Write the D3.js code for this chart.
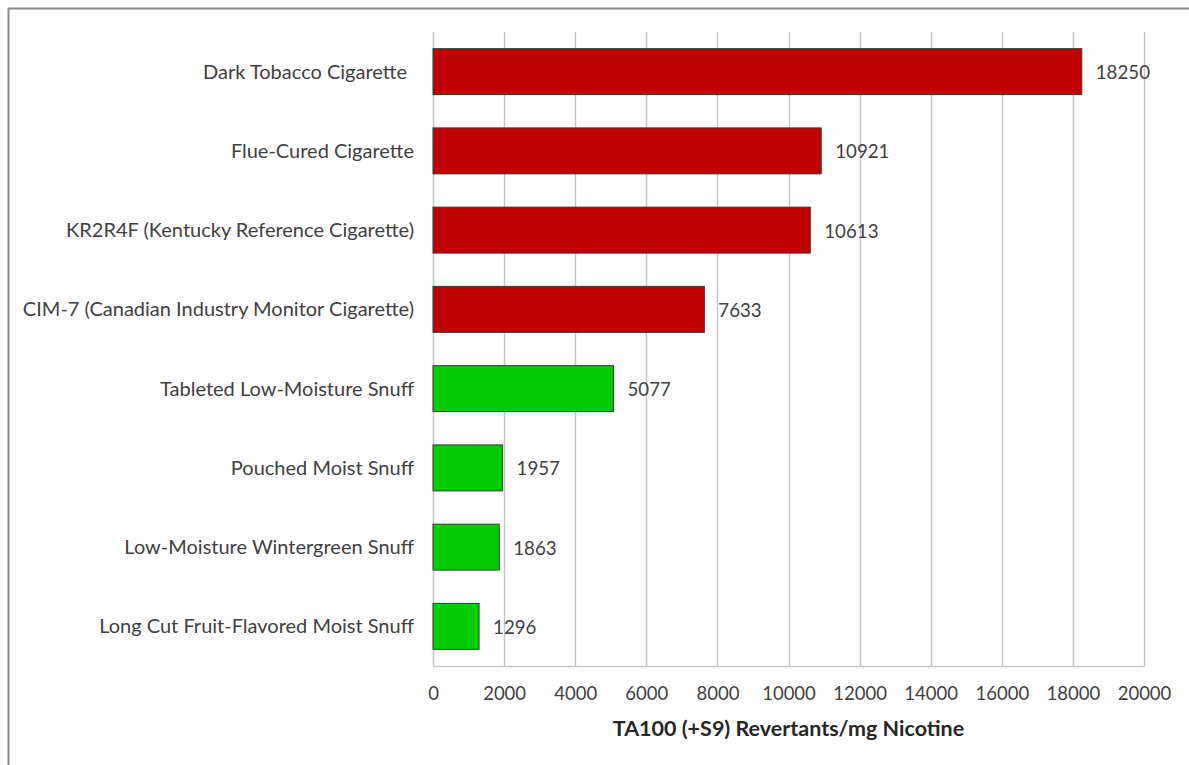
<!DOCTYPE html>
<html>
<head>
<meta charset="utf-8">
<script src="https://cdn.jsdelivr.net/npm/d3@7"></script>
<style>
  html, body { margin: 0; padding: 0; background: #fff; }
  svg { display: block; }
  text { font-family: Lato, "Open Sans", sans-serif; }
</style>
</head>
<body>
<svg id="chart" width="1189" height="765"></svg>
<script>
const categories = [
  "Dark Tobacco Cigarette",
  "Flue-Cured Cigarette",
  "KR2R4F (Kentucky Reference Cigarette)",
  "CIM-7 (Canadian Industry Monitor Cigarette)",
  "Tableted Low-Moisture Snuff",
  "Pouched Moist Snuff",
  "Low-Moisture Wintergreen Snuff",
  "Long Cut Fruit-Flavored Moist Snuff"
];
const values = [18250, 10921, 10613, 7633, 5077, 1957, 1863, 1296];
const groups = ["cig", "cig", "cig", "cig", "snuff", "snuff", "snuff", "snuff"];
const tickValues = [0, 2000, 4000, 6000, 8000, 10000, 12000, 14000, 16000, 18000, 20000];
const axisTitle = "TA100 (+S9) Revertants/mg Nicotine";

const colors = { cig: "#C00000", snuff: "#00CC00" };

const svg = d3.select("#chart");
const pLeft = 433, pRight = 1144, pTop = 32, pBottom = 666;

// outer frame (top and left edges)
svg.append("line").attr("x1", 8).attr("x2", 1189).attr("y1", 8.5).attr("y2", 8.5)
  .attr("stroke", "#8a8a8a").attr("stroke-width", 2);
svg.append("line").attr("x1", 8.5).attr("x2", 8.5).attr("y1", 8).attr("y2", 765)
  .attr("stroke", "#8a8a8a").attr("stroke-width", 2);

const x = d3.scaleLinear().domain([0, 20000]).range([pLeft, pRight]);
const y = d3.scaleBand().domain(categories).range([pTop, pBottom]).paddingInner(0.42).paddingOuter(0.21);

// gridlines
svg.append("g").selectAll("line").data(tickValues).join("line")
  .attr("x1", d => Math.round(x(d)) + 0.5).attr("x2", d => Math.round(x(d)) + 0.5)
  .attr("y1", pTop).attr("y2", pBottom)
  .attr("stroke", "#c6c6c6").attr("stroke-width", 1.5);

// bottom axis line
svg.append("line").attr("x1", pLeft).attr("x2", pRight + 1).attr("y1", pBottom + 0.5).attr("y2", pBottom + 0.5)
  .attr("stroke", "#c6c6c6").attr("stroke-width", 1.5);

// x axis tick labels
const xAxis = d3.axisBottom(x).tickValues(tickValues).tickSize(0).tickPadding(0).tickFormat(d3.format("d"));
const gx = svg.append("g").attr("transform", `translate(0,${pBottom})`).call(xAxis);
gx.select(".domain").remove();
gx.selectAll("text").attr("y", 28).attr("dy", "0.35em")
  .attr("font-family", "Lato, sans-serif").attr("font-size", 18.5).attr("fill", "#404040");

// bars
svg.append("g").selectAll("rect").data(categories).join("rect")
  .attr("x", x(0))
  .attr("y", d => y(d))
  .attr("width", (d, i) => x(values[i]) - x(0))
  .attr("height", y.bandwidth())
  .attr("fill", (d, i) => colors[groups[i]])
  .attr("stroke", "#3a3a3a").attr("stroke-width", 1);

// value labels
svg.append("g").selectAll("text").data(categories).join("text")
  .attr("x", (d, i) => x(values[i]) + 14)
  .attr("y", d => y(d) + y.bandwidth() / 2 + 1)
  .attr("dy", "0.35em")
  .attr("font-size", 18.7).attr("fill", "#404040")
  .text((d, i) => values[i]);

// category labels
svg.append("g").selectAll("text").data(categories).join("text")
  .attr("x", 414)
  .attr("y", d => y(d) + y.bandwidth() / 2)
  .attr("dy", "0.35em")
  .attr("text-anchor", "end")
  .attr("font-size", 20).attr("fill", "#404040")
  .attr("dx", (d, i) => i === 0 ? -7 : 0)
  .text(d => d);

// axis title
svg.append("text")
  .attr("x", (pLeft + pRight) / 2).attr("y", 728).attr("dy", "0.35em")
  .attr("text-anchor", "middle")
  .attr("font-size", 21.5).attr("font-weight", "bold").attr("fill", "#262626")
  .text(axisTitle);
</script>
</body>
</html>
